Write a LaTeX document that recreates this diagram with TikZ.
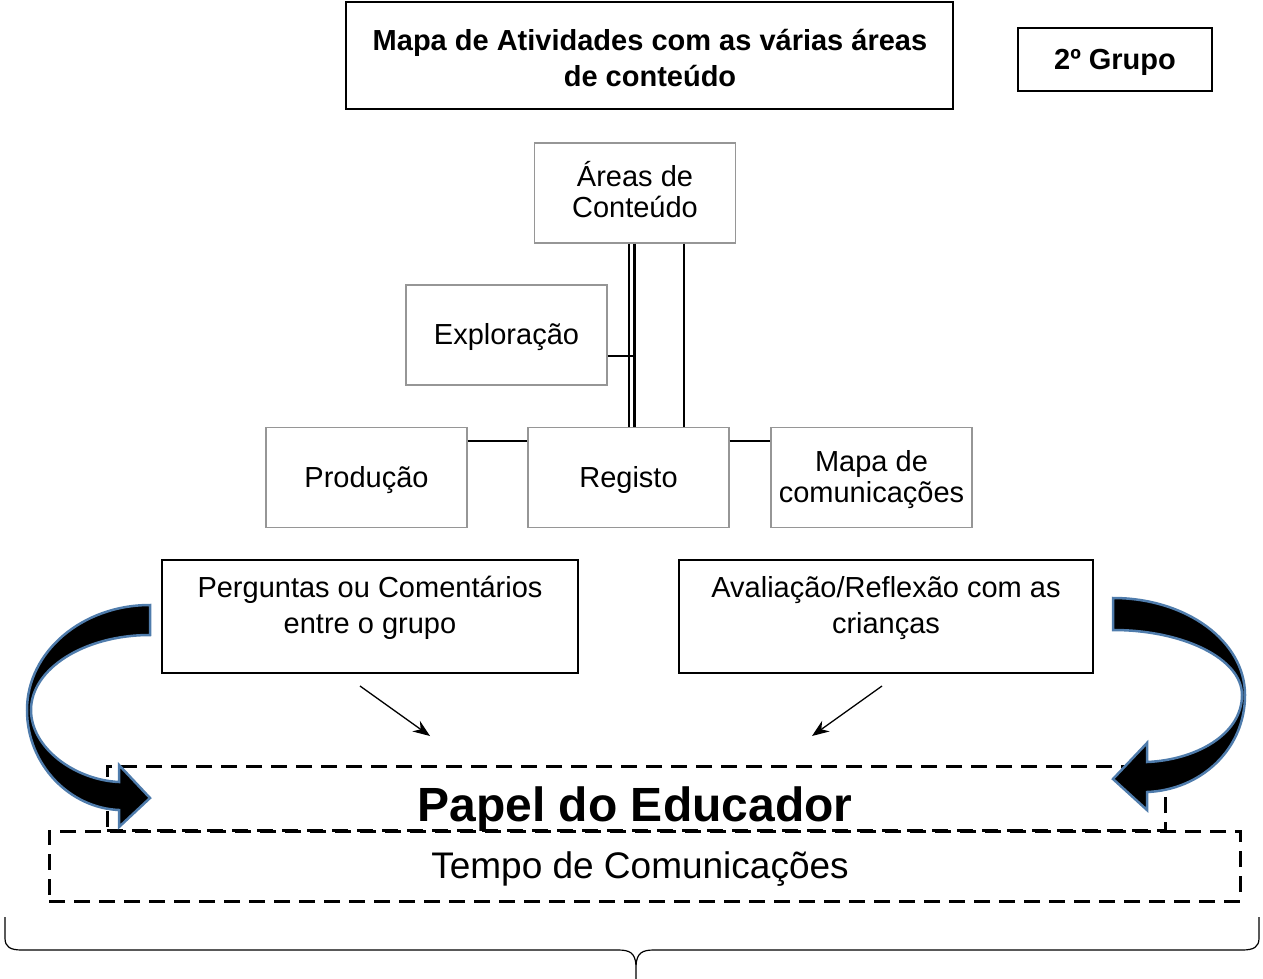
\documentclass[tikz,border=0pt]{standalone}
\usepackage{fontspec}
\setmainfont{Liberation Sans}
\usetikzlibrary{arrows.meta}
\definecolor{arrowblue}{RGB}{79,124,172}
\definecolor{boxgray}{RGB}{150,150,150}
\begin{document}
\begin{tikzpicture}[x=1pt,y=-1pt,
  blackbox/.style={draw=black, line width=2pt, inner sep=0pt},
  graybox/.style={draw=boxgray, line width=1.3pt, fill=white, inner sep=0pt, minimum width=201pt, minimum height=100pt},
  dbox/.style={draw=black, line width=3pt, dash pattern=on 16pt off 9pt, inner sep=0pt},
  conn/.style={line width=2pt},
  bigarrow/.style={fill=black, draw=arrowblue, line width=2.5pt, line join=miter},
  thinarrow/.style={line width=1.3pt, -{Stealth[length=17pt,width=13pt]}},
  txt/.style={align=center, inner sep=0pt, font=\fontsize{29}{36}\selectfont},
  orgtxt/.style={align=center, inner sep=0pt, font=\fontsize{29}{31}\selectfont},
]
\useasboundingbox (0,0) rectangle (1263,979);

% title boxes
\node[blackbox, minimum width=607pt, minimum height=107pt] (title) at (649.5,55.5) {};
\node[txt, font=\bfseries\fontsize{29}{36}\selectfont] (titletxt) at (650,58) {Mapa de Atividades com as várias áreas\\de conteúdo};
\node[blackbox, minimum width=194pt, minimum height=63pt] (grupo) at (1115,59.5) {};
\node[txt, font=\bfseries\fontsize{29}{36}\selectfont, anchor=base] (grupotxt) at (1115,70) {2º Grupo};

% org chart boxes
\node[graybox] (areas) at (635,193) {};
\node[graybox] (explor) at (506.5,335) {};
\node[graybox] (prod) at (366.5,477.5) {};
\node[graybox] (reg) at (628.5,477.5) {};
\node[graybox] (mapa) at (871.5,477.5) {};

\node[orgtxt] (areastxt) at (635,190) {Áreas de\\Conteúdo};
\node[orgtxt, anchor=base] (explortxt) at (506.5,344) {Exploração};
\node[orgtxt, anchor=base] (prodtxt) at (366.5,487) {Produção};
\node[orgtxt, anchor=base] (regtxt) at (628.5,487) {Registo};
\node[orgtxt] (mapatxt) at (871.5,480) {Mapa de\\comunicações};

% org chart connectors
\coordinate (v1) at ([xshift=-6pt]areas.south);
\coordinate (v2) at ([xshift=-1pt]areas.south);
\coordinate (v3) at ([xshift=49pt]areas.south);
\draw[conn] (v1) -- (v1 |- reg.north);
\draw[line width=3pt] (v2) -- (v2 |- reg.north);
\draw[conn] (v3) -- (v3 |- reg.north);
\coordinate (e1) at ([yshift=-21pt]explor.east);
\draw[conn] (e1) -- (e1 -| v2);
\draw[conn] ([yshift=-14pt]prod.north east) -- ([yshift=-14pt]reg.north west);
\draw[conn] ([yshift=-14pt]reg.north east) -- ([yshift=-14pt]mapa.north west);

% question / evaluation boxes
\node[blackbox, minimum width=416pt, minimum height=113pt] (perg) at (370,616.5) {};
\node[txt] (pergtxt) at (370,608) {Perguntas ou Comentários\\entre o grupo};
\node[blackbox, minimum width=414pt, minimum height=113pt] (aval) at (886,616.5) {};
\node[txt] (avaltxt) at (886,608) {Avaliação/Reflexão com as\\crianças};

% dashed boxes
\node[dbox, minimum width=1058pt, minimum height=64pt] (papel) at (636,798) {};
\node[inner sep=0pt, anchor=base, font=\bfseries\fontsize{48}{56}\selectfont] (papeltxt) at (635,821) {Papel do Educador};
\node[dbox, minimum width=1191pt, minimum height=70pt] (tempo) at (644.5,866) {};
\node[inner sep=0pt, anchor=base, font=\fontsize{37}{44}\selectfont] (tempotxt) at (640,878) {Tempo de Comunicações};

% thin arrows
\coordinate (a1s) at (360,686);
\coordinate (a1e) at (430,736);
\coordinate (a2s) at (882,686);
\coordinate (a2e) at (812,736);
\draw[thinarrow] (a1s) -- (a1e);
\draw[thinarrow] (a2s) -- (a2e);

% curved block arrows
\draw[bigarrow] (150,605) .. controls (82,605) and (27,652) .. (27,710)
  .. controls (27,765) and (70,808) .. (119,810)
  -- (119,827) -- (150,798) -- (119,765) -- (119,782)
  .. controls (75,780) and (31,748) .. (31,710)
  .. controls (31,669) and (84,635) .. (150,635) -- cycle;
\draw[bigarrow] (1113,598) .. controls (1186,598) and (1245,641) .. (1245,695)
  .. controls (1245,750) and (1200,790) .. (1147,792)
  -- (1147,810) -- (1113,779) -- (1147,743) -- (1147,762)
  .. controls (1195,760) and (1242,735) .. (1242,695)
  .. controls (1242,659) and (1184,630) .. (1113,630) -- cycle;

% brace
\draw[line width=1.2pt] (5,917) -- (5,938) .. controls (5,947) and (10,950) .. (22,950)
  -- (618,950) .. controls (630,950) and (635,953) .. (636,965) -- (636,979);
\draw[line width=1.2pt] (1259,917) -- (1259,938) .. controls (1259,947) and (1254,950) .. (1242,950)
  -- (654,950) .. controls (642,950) and (637,953) .. (636,965);
\end{tikzpicture}
\end{document}
